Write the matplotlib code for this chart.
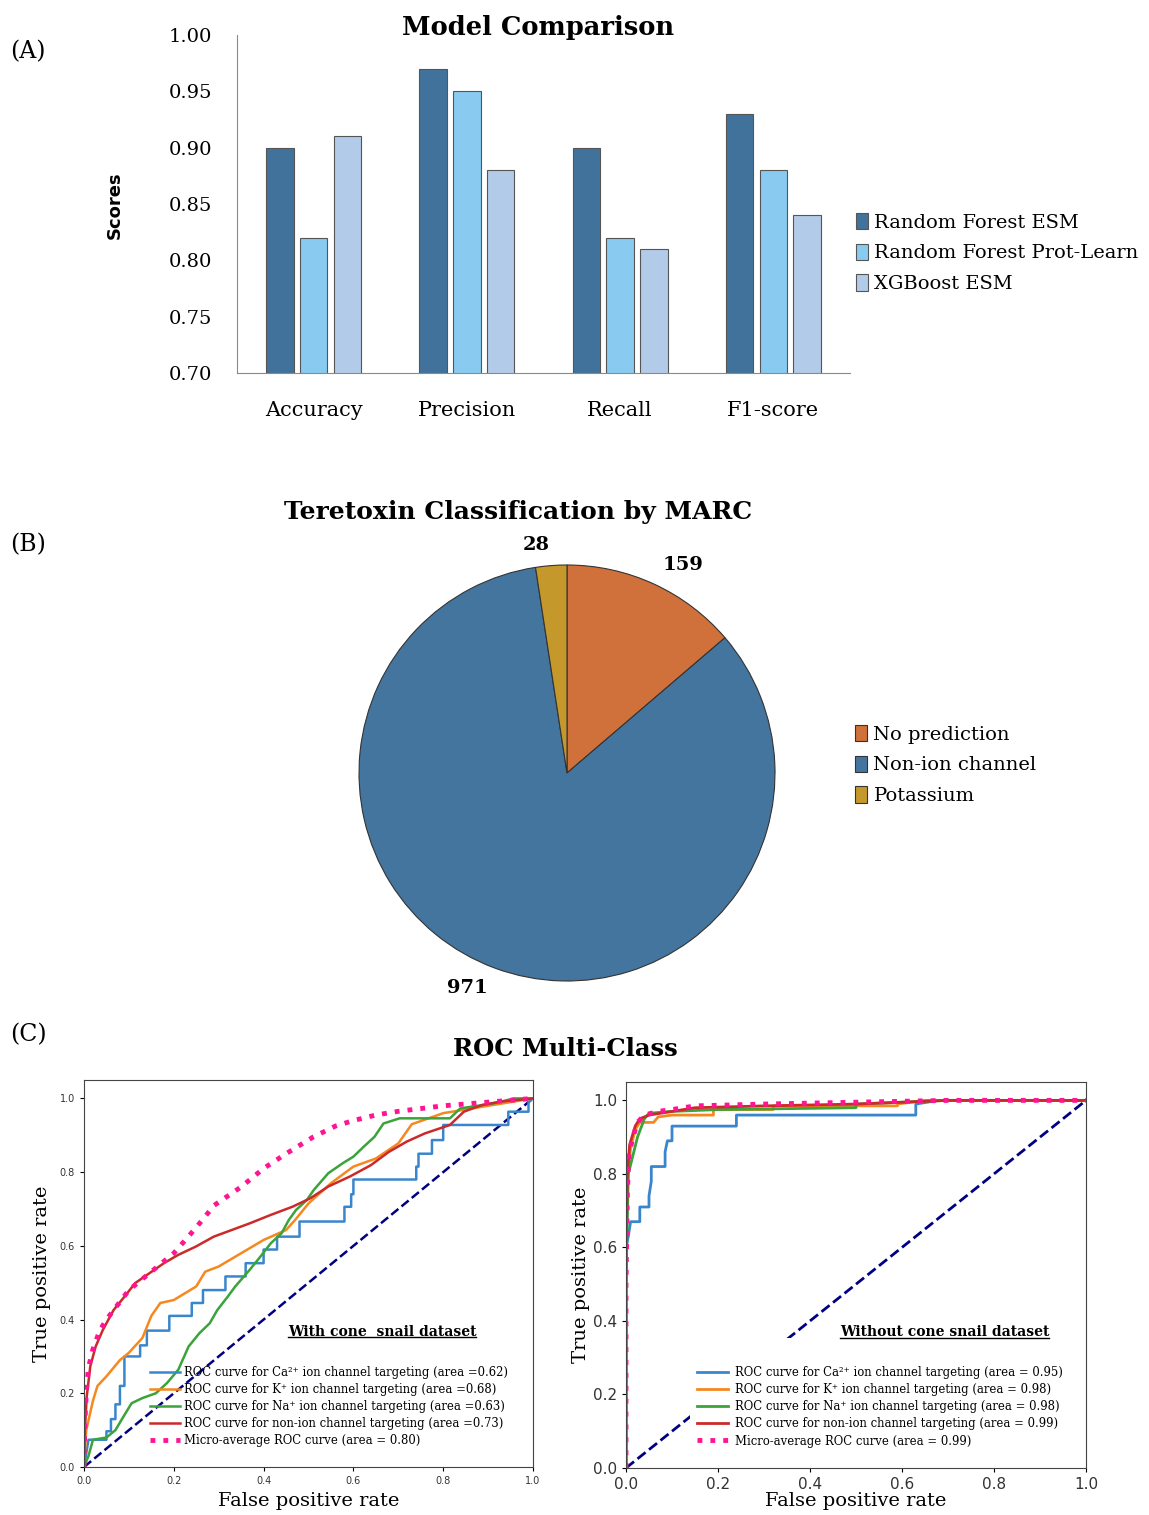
import matplotlib.pyplot as plt
import numpy as np
from matplotlib.lines import Line2D

plt.rcParams['font.family'] = ['DejaVu Serif', 'DejaVu Sans']

# ---- (A) model comparison ----
metrics = ['Accuracy', 'Precision', 'Recall', 'F1-score']
models = ['Random Forest ESM', 'Random Forest Prot-Learn', 'XGBoost ESM']
rf_esm = [0.90, 0.97, 0.90, 0.93]
rf_protlearn = [0.82, 0.95, 0.82, 0.88]
xgb_esm = [0.91, 0.88, 0.81, 0.84]
score_ticks = [0.70, 0.75, 0.80, 0.85, 0.90, 0.95, 1.00]

# ---- (B) teretoxin classification ----
pie_labels = ['No prediction', 'Non-ion channel', 'Potassium']
pie_counts = [159, 971, 28]

# ---- (C) ROC curves, (fpr, tpr) ----
roc_ca_cs = [(0, 0), (0.01, 0.074), (0.05, 0.074), (0.05, 0.097), (0.06, 0.097), (0.06, 0.13),
             (0.07, 0.13), (0.07, 0.17), (0.08, 0.17), (0.08, 0.22), (0.09, 0.22), (0.09, 0.30),
             (0.125, 0.30), (0.125, 0.33), (0.14, 0.33), (0.14, 0.37), (0.19, 0.37), (0.19, 0.41),
             (0.24, 0.41), (0.24, 0.445), (0.265, 0.445), (0.265, 0.48), (0.315, 0.48), (0.315, 0.517),
             (0.36, 0.517), (0.36, 0.553), (0.40, 0.553), (0.40, 0.59), (0.43, 0.59), (0.43, 0.625),
             (0.48, 0.625), (0.48, 0.666), (0.58, 0.666), (0.58, 0.706), (0.595, 0.706), (0.595, 0.74),
             (0.60, 0.74), (0.60, 0.78), (0.74, 0.78), (0.74, 0.815), (0.745, 0.815), (0.745, 0.85),
             (0.775, 0.85), (0.775, 0.887), (0.80, 0.887), (0.80, 0.928), (0.945, 0.928), (0.945, 0.964),
             (0.99, 0.964), (0.99, 0.99), (1.0, 1.0)]
roc_k_cs = [(0, 0), (0.005, 0.10), (0.02, 0.18), (0.03, 0.22), (0.05, 0.246), (0.08, 0.29),
            (0.10, 0.31), (0.13, 0.35), (0.15, 0.41), (0.17, 0.445), (0.20, 0.453), (0.25, 0.49),
            (0.27, 0.53), (0.30, 0.544), (0.35, 0.58), (0.40, 0.616), (0.45, 0.643), (0.47, 0.67),
            (0.50, 0.715), (0.55, 0.77), (0.60, 0.815), (0.65, 0.837), (0.70, 0.878), (0.73, 0.93),
            (0.80, 0.96), (0.90, 0.98), (0.95, 0.99), (1.0, 1.0)]
roc_na_cs = [(0, 0), (0.01, 0.03), (0.02, 0.074), (0.05, 0.08), (0.07, 0.10), (0.086, 0.133),
             (0.106, 0.173), (0.13, 0.187), (0.16, 0.20), (0.185, 0.228), (0.21, 0.264), (0.233, 0.327),
             (0.257, 0.363), (0.28, 0.39), (0.297, 0.426), (0.32, 0.462), (0.337, 0.49), (0.369, 0.535),
             (0.393, 0.571), (0.416, 0.607), (0.44, 0.634), (0.456, 0.67), (0.472, 0.697), (0.496, 0.724),
             (0.512, 0.752), (0.544, 0.797), (0.576, 0.824), (0.60, 0.842), (0.623, 0.869), (0.647, 0.896),
             (0.667, 0.932), (0.703, 0.946), (0.815, 0.946), (0.838, 0.973), (0.91, 0.986), (0.958, 1.0),
             (1.0, 1.0)]
roc_non_cs = [(0, 0), (0.002, 0.10), (0.006, 0.19), (0.014, 0.273), (0.026, 0.327), (0.042, 0.372),
              (0.066, 0.426), (0.09, 0.462), (0.114, 0.499), (0.146, 0.526), (0.178, 0.553), (0.209, 0.575),
              (0.249, 0.598), (0.289, 0.625), (0.329, 0.643), (0.369, 0.661), (0.416, 0.684), (0.464, 0.706),
              (0.504, 0.729), (0.544, 0.761), (0.592, 0.788), (0.639, 0.819), (0.679, 0.855), (0.719, 0.883),
              (0.759, 0.905), (0.815, 0.928), (0.846, 0.964), (0.886, 0.982), (0.926, 0.991), (1.0, 1.0)]
roc_micro_cs = [(0, 0), (0.002, 0.12), (0.005, 0.20), (0.01, 0.27), (0.02, 0.32), (0.035, 0.37),
                (0.05, 0.40), (0.075, 0.44), (0.10, 0.48), (0.13, 0.51), (0.16, 0.54), (0.20, 0.58),
                (0.25, 0.65), (0.29, 0.71), (0.35, 0.76), (0.40, 0.81), (0.45, 0.85), (0.51, 0.895),
                (0.56, 0.925), (0.60, 0.94), (0.65, 0.955), (0.70, 0.965), (0.80, 0.98), (0.90, 0.99),
                (1.0, 1.0)]
auc_cs = [0.62, 0.68, 0.63, 0.73, 0.80]

roc_ca_nocs = [(0, 0), (0, 0.60), (0.005, 0.63), (0.01, 0.67), (0.03, 0.67), (0.03, 0.71), (0.05, 0.71),
               (0.05, 0.74), (0.055, 0.78), (0.055, 0.82), (0.085, 0.82), (0.085, 0.86), (0.09, 0.89),
               (0.10, 0.89), (0.10, 0.93), (0.24, 0.93), (0.24, 0.96), (0.63, 0.96), (0.63, 0.99),
               (0.68, 1.0), (1.0, 1.0)]
roc_k_nocs = [(0, 0), (0, 0.70), (0.005, 0.80), (0.01, 0.87), (0.02, 0.92), (0.03, 0.94), (0.06, 0.94),
              (0.07, 0.955), (0.10, 0.96), (0.19, 0.96), (0.19, 0.975), (0.32, 0.975), (0.32, 0.985),
              (0.59, 0.985), (0.59, 0.99), (0.65, 1.0), (1.0, 1.0)]
roc_na_nocs = [(0, 0), (0, 0.50), (0.005, 0.80), (0.015, 0.85), (0.025, 0.90), (0.04, 0.95), (0.05, 0.965),
               (0.10, 0.97), (0.20, 0.975), (0.50, 0.98), (0.50, 0.99), (0.60, 0.995), (0.70, 1.0), (1.0, 1.0)]
roc_non_nocs = [(0, 0), (0, 0.60), (0.003, 0.80), (0.008, 0.88), (0.02, 0.93), (0.03, 0.95), (0.05, 0.96),
                (0.10, 0.97), (0.15, 0.98), (0.30, 0.985), (0.50, 0.99), (0.70, 1.0), (1.0, 1.0)]
roc_micro_nocs = [(0, 0), (0, 0.50), (0.003, 0.75), (0.006, 0.85), (0.015, 0.90), (0.025, 0.94), (0.04, 0.96),
                  (0.07, 0.97), (0.10, 0.975), (0.15, 0.985), (0.30, 0.99), (0.50, 0.995), (0.70, 1.0), (1.0, 1.0)]
auc_nocs = [0.95, 0.98, 0.98, 0.99, 0.99]

W, H = 1149, 1515


def fx(px):
    return px / W


def fy(py):
    return 1 - py / H


fig = plt.figure(figsize=(W / 100, H / 100), dpi=100)

# ---------------- (A) ----------------
axA = fig.add_axes([fx(237), fy(373), fx(850 - 237), (373 - 35) / H])
bar_colors = ['#41729b', '#88caf0', '#b2cbe9']
x = np.arange(len(metrics))
for k, (vals, name) in enumerate(zip([rf_esm, rf_protlearn, xgb_esm], models)):
    axA.bar(x + (k - 1) * 0.22, vals, width=0.18, color=bar_colors[k],
            edgecolor='#555555', linewidth=0.8, label=name)
axA.set_xlim(-0.5, 3.5)
axA.set_ylim(0.70, 1.00)
axA.set_yticks(score_ticks)
axA.set_yticklabels(['%.2f' % t for t in score_ticks], fontsize=14)
axA.set_xticks(x)
axA.set_xticklabels(metrics, fontsize=15)
axA.tick_params(length=0)
axA.tick_params(axis='x', pad=20)
axA.tick_params(axis='y', pad=18)
for s in ['top', 'right']:
    axA.spines[s].set_visible(False)
for s in ['left', 'bottom']:
    axA.spines[s].set_color('#8a8a8a')
fig.text(fx(538), fy(27), 'Model Comparison', ha='center', va='center',
         fontsize=18.5, fontweight='bold')
fig.text(fx(115), fy(205), 'Scores', rotation=90, ha='center', va='center',
         family='DejaVu Sans', fontweight='bold', fontsize=13)
hA, lA = axA.get_legend_handles_labels()
fig.legend(hA, lA, loc='center left', bbox_to_anchor=(fx(856), fy(253)), frameon=False,
           borderpad=0, borderaxespad=0, fontsize=14, handlelength=0.6, handleheight=0.9,
           handletextpad=0.35, labelspacing=0.62)

# ---------------- (B) ----------------
axB = fig.add_axes([fx(567 - 260), fy(773 + 260), 520 / W, 520 / H])
pie_colors = ['#d0703a', '#44759e', '#c4982a']
wedges, texts = axB.pie(pie_counts, labels=[str(c) for c in pie_counts], colors=pie_colors,
                        startangle=90, counterclock=False, labeldistance=1.1,
                        wedgeprops=dict(edgecolor='#333333', linewidth=0.8),
                        textprops=dict(fontsize=14, fontweight='bold'))
axB.set_xlim(-1.25, 1.25)
axB.set_ylim(-1.25, 1.25)
fig.text(fx(518), fy(512), 'Teretoxin Classification by MARC', ha='center', va='center',
         fontsize=18, fontweight='bold')
fig.legend(wedges, pie_labels, loc='center left', bbox_to_anchor=(fx(855), fy(765)), frameon=False,
           borderpad=0, borderaxespad=0, fontsize=14, handlelength=0.6, handleheight=0.9,
           handletextpad=0.35, labelspacing=0.62)

# panel letters
for lab, py in [('(A)', 52), ('(B)', 545), ('(C)', 1035)]:
    fig.text(fx(10), fy(py), lab, fontsize=17, va='center')

# ---------------- (C) ----------------
fig.text(fx(565), fy(1049), 'ROC Multi-Class', ha='center', va='center',
         fontsize=17.5, fontweight='bold')

roc_colors = ['#3a86cc', '#f5891f', '#3aa33a', '#cc2a2a']
ion_names = ['Ca\u00b2\u207a ion channel', 'K\u207a ion channel', 'Na\u207a ion channel', 'non-ion channel']

axL = fig.add_axes([fx(84), fy(1467), 449 / W, 387 / H])
axR = fig.add_axes([fx(626), fy(1468), 460 / W, 386 / H])

panels = [
    (axL, [roc_ca_cs, roc_k_cs, roc_na_cs, roc_non_cs], roc_micro_cs, auc_cs, 'area =%.2f', 7, 1.8),
    (axR, [roc_ca_nocs, roc_k_nocs, roc_na_nocs, roc_non_nocs], roc_micro_nocs, auc_nocs, 'area = %.2f', 11, 2.0),
]
for ax, curves, micro, aucs, fmt, tfs, lw in panels:
    ax.plot([0, 1], [0, 1], color='navy', linestyle='--', linewidth=lw)
    for c, pts, name, a in zip(roc_colors, curves, ion_names, aucs):
        pts = np.array(pts)
        ax.plot(pts[:, 0], pts[:, 1], color=c, linewidth=lw,
                label='ROC curve for %s targeting (%s)' % (name, fmt % a))
    mp = np.array(micro)
    ax.plot(mp[:, 0], mp[:, 1], color='deeppink', linestyle=':', linewidth=3.5,
            label='Micro-average ROC curve (area = %.2f)' % aucs[4])
    ax.set_xlim(0.0, 1.0)
    ax.set_ylim(0.0, 1.05)
    ax.set_xticks([0, 0.2, 0.4, 0.6, 0.8, 1.0])
    ax.set_yticks([0, 0.2, 0.4, 0.6, 0.8, 1.0])
    ax.tick_params(labelsize=tfs, labelcolor='#333333', length=3)
    for lab in ax.get_xticklabels() + ax.get_yticklabels():
        lab.set_family('DejaVu Sans')
    for s in ax.spines.values():
        s.set_color('#444444')

axL.set_xlabel('False positive rate', fontsize=14, labelpad=4)
axL.set_ylabel('True positive rate', fontsize=14, labelpad=6)
axR.set_xlabel('False positive rate', fontsize=14, labelpad=0)
axR.set_ylabel('True positive rate', fontsize=14, labelpad=2)

axL.legend(loc='upper left', bbox_to_anchor=(0.147, 0.262), frameon=False, fontsize=8.4,
           borderpad=0, borderaxespad=0, handlelength=2.6, handletextpad=0.3, labelspacing=0.36)
# white legend box (blank title row) masks part of the chance line, as in the original
legR = axR.legend(loc='upper left', bbox_to_anchor=(0.14, 0.338), frameon=True, fontsize=8.4,
                  title=' ', title_fontsize=12,
                  borderpad=0.6, borderaxespad=0, handlelength=2.6, handletextpad=0.6,
                  labelspacing=0.36, fancybox=False)
legR.get_frame().set_edgecolor('none')
legR.get_frame().set_facecolor('white')
legR.get_frame().set_alpha(1)

tL = axL.text(0.664, 0.349, 'With cone  snail dataset', transform=axL.transAxes,
              ha='center', va='center', fontsize=10, fontweight='bold')
tR = axR.text(0.693, 0.352, 'Without cone snail dataset', transform=axR.transAxes,
              ha='center', va='center', fontsize=10, fontweight='bold', zorder=6)

# underline the two captions
fig.canvas.draw()
inv = fig.transFigure.inverted()
for t in [tL, tR]:
    bb = t.get_window_extent()
    (x0, y0), (x1, y1) = inv.transform([(bb.x0, bb.y0), (bb.x1, bb.y1)])
    fig.add_artist(Line2D([x0, x1], [y0 + 0.001, y0 + 0.001], color='black', linewidth=1,
                          transform=fig.transFigure))

fig.savefig('out.png', dpi=100)
